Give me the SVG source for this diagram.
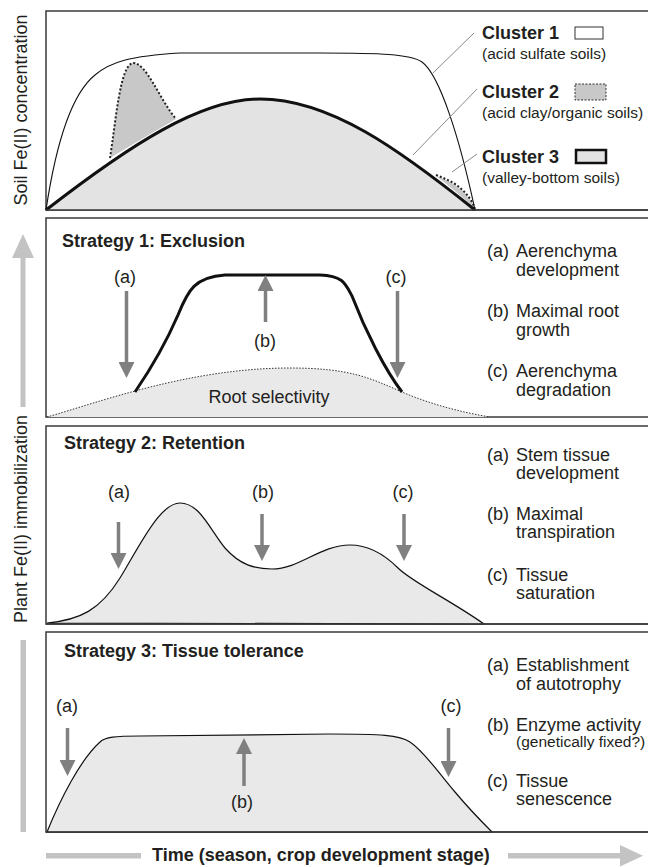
<svg xmlns="http://www.w3.org/2000/svg" width="648" height="867" viewBox="0 0 648 867">
<style>
.t{font-family:"Liberation Sans",Arial,Helvetica,sans-serif;font-size:18px;fill:#231f20}
.b{font-weight:bold}
.s{font-size:15.5px}
.frame{fill:#fff;stroke:#3a3a3a;stroke-width:1.5}
.arr{stroke:#808080;stroke-width:3.5;fill:none;marker-end:url(#ah)}
.big{fill:#c3c3c3}
.lead{stroke:#8a8a8a;stroke-width:1;fill:none}
.dot{fill:none;stroke:#222;stroke-width:2;stroke-dasharray:2 2}
.area{fill:#e9e9ea;stroke:#111;stroke-width:1.2}
</style>
<defs>
<marker id="ah" markerUnits="userSpaceOnUse" markerWidth="16" markerHeight="16" viewBox="0 0 16 16" refX="0" refY="8" orient="auto">
<path d="M0,0 L16,8 L0,16 Z" fill="#808080"/>
</marker>
</defs>
<rect width="648" height="867" fill="#fff"/>

<g id="axis-soil">
<text class="t" transform="translate(27,110) rotate(-90)" text-anchor="middle" font-size="19">Soil Fe(II) concentration</text>
</g>
<g id="axis-plant">
<text class="t" transform="translate(27,519) rotate(-90)" text-anchor="middle" font-size="19">Plant Fe(II) immobilization</text>
<polygon class="big" points="20.5,407 20.5,258 12,258 23,234 34,258 25.5,258 25.5,407"/>
<rect class="big" x="20.5" y="640" width="5.5" height="192"/>
</g>
<g id="axis-time">
<rect class="big" x="46" y="853" width="95" height="5.5"/>
<text class="t b" x="152" y="861">Time (season, crop development stage)</text>
<polygon class="big" points="508,853 620,853 620,845 643,855.7 620,866.5 620,858.5 508,858.5"/>
</g>

<g id="panel-soil">
<rect class="frame" x="46" y="11" width="610" height="199"/>
<path d="M46,210 C130,145 200,99 260,99 C330,99 400,150 475,210 Z" fill="#e3e3e4"/>
<path d="M110,158 C116,120 120,65 133,63 C146,62 160,100 176,119 Q145,137 110,158 Z" fill="#c8c8c9"/>
<path d="M436,176 C452,182 466,188 475,209 Q455,190 436,176 Z" fill="#c8c8c9"/>
<path class="dot" d="M110,158 C116,120 120,65 133,63 C146,62 160,100 176,119"/>
<path class="dot" d="M436,175 C452,181 466,188 475,208"/>
<path d="M46,210 C130,145 200,99 260,99 C330,99 400,150 475,210" fill="none" stroke="#111" stroke-width="3"/>
<path d="M46,210 C55,150 70,95 95,75 C110,62 130,56 180,53 L320,53 C380,53 410,54 422,62 C440,75 460,140 475,210" fill="none" stroke="#111" stroke-width="1.1"/>
<line x1="46" y1="210" x2="648" y2="210" stroke="#3a3a3a" stroke-width="1.5"/>
</g>
<g id="legend-c1">
<text class="t b" x="482" y="39">Cluster 1</text>
<rect x="575" y="27" width="28" height="12" fill="#fff" stroke="#333" stroke-width="1"/>
<text class="t s" x="482" y="59">(acid sulfate soils)</text>
</g>
<g id="legend-c2">
<text class="t b" x="482" y="98">Cluster 2</text>
<rect x="575" y="84" width="31" height="16" fill="#c8c8c9" stroke="#333" stroke-width="1" stroke-dasharray="2 1.5"/>
<text class="t s" x="482" y="118">(acid clay/organic soils)</text>
</g>
<g id="legend-c3">
<text class="t b" x="482" y="163">Cluster 3</text>
<rect x="576" y="150" width="30" height="13" fill="#e3e3e4" stroke="#111" stroke-width="2.5"/>
<text class="t s" x="482" y="183">(valley-bottom soils)</text>
</g>

<g id="panel-s1">
<rect class="frame" x="46" y="218" width="610" height="199"/>
<path d="M47,417 C100,402 190,368 290,368 C350,368 370,378 402,392 C430,404 460,412 490,417 Z" fill="#e9e9ea"/>
<path d="M47,417 C100,402 190,368 290,368 C350,368 370,378 402,392 C430,404 460,412 490,417" fill="none" stroke="#333" stroke-width="1" stroke-dasharray="1.5 1.5"/>
<path d="M135,392 C150,370 165,345 178,315 C188,290 195,277 225,275 L320,275 C343,276 345,283 352,296 C365,330 385,370 402,392" fill="none" stroke="#111" stroke-width="3"/>
<text class="t b" x="62" y="247">Strategy 1: Exclusion</text>
<text class="t" x="269" y="403" text-anchor="middle">Root selectivity</text>
<text class="t" x="125" y="283" text-anchor="middle">(a)</text>
<text class="t" x="265" y="347" text-anchor="middle">(b)</text>
<text class="t" x="396" y="283" text-anchor="middle">(c)</text>
<text class="t" x="487" y="257">(a)</text><text class="t" x="516" y="257">Aerenchyma</text>
<text class="t" x="516" y="276">development</text>
<text class="t" x="487" y="317">(b)</text><text class="t" x="516" y="317">Maximal root</text>
<text class="t" x="516" y="336">growth</text>
<text class="t" x="487" y="377">(c)</text><text class="t" x="516" y="377">Aerenchyma</text>
<text class="t" x="516" y="396">degradation</text>
</g>

<g id="panel-s2">
<rect class="frame" x="46" y="426" width="610" height="198"/>
<path class="area" d="M47,623 C80,620 100,610 120,578 C140,545 160,503 180,503 C200,503 210,530 225,548 C240,565 255,569 272,569 C300,569 320,545 350,545 C370,545 385,555 398,568 C412,582 450,600 484,624 Z"/>
<line x1="46" y1="624" x2="648" y2="624" stroke="#3a3a3a" stroke-width="1.5"/>
<text class="t b" x="64" y="449">Strategy 2: Retention</text>
<text class="t" x="119" y="498" text-anchor="middle">(a)</text>
<text class="t" x="263" y="498" text-anchor="middle">(b)</text>
<text class="t" x="403" y="498" text-anchor="middle">(c)</text>
<text class="t" x="487" y="461">(a)</text><text class="t" x="516" y="461">Stem tissue</text>
<text class="t" x="516" y="479">development</text>
<text class="t" x="487" y="520">(b)</text><text class="t" x="516" y="520">Maximal</text>
<text class="t" x="516" y="538">transpiration</text>
<text class="t" x="487" y="581">(c)</text><text class="t" x="516" y="581">Tissue</text>
<text class="t" x="516" y="599">saturation</text>
</g>

<g id="panel-s3">
<rect class="frame" x="46" y="632" width="610" height="200"/>
<path class="area" d="M47,832 C60,800 80,760 100,742 C105,737 115,736 140,736 L330,734 C380,734 400,735 410,742 C425,752 440,775 455,792 C470,810 480,820 492,832 Z"/>
<line x1="46" y1="832" x2="648" y2="832" stroke="#3a3a3a" stroke-width="1.5"/>
<text class="t b" x="64" y="657">Strategy 3: Tissue tolerance</text>
<text class="t" x="67" y="712" text-anchor="middle">(a)</text>
<text class="t" x="242" y="808" text-anchor="middle">(b)</text>
<text class="t" x="451" y="712" text-anchor="middle">(c)</text>
<text class="t" x="487" y="671">(a)</text><text class="t" x="516" y="671">Establishment</text>
<text class="t" x="516" y="690">of autotrophy</text>
<text class="t" x="487" y="731">(b)</text><text class="t" x="516" y="731">Enzyme activity</text>
<text class="t s" x="516" y="747">(genetically fixed?)</text>
<text class="t" x="487" y="787">(c)</text><text class="t" x="516" y="787">Tissue</text>
<text class="t" x="516" y="805">senescence</text>
</g>

<g id="connectors">
<line class="lead" x1="433" y1="73" x2="474" y2="33"/>
<line class="lead" x1="413" y1="155" x2="477" y2="89"/>
<line class="lead" x1="452" y1="172" x2="477" y2="154"/>
<line class="arr" x1="126.5" y1="291" x2="126.5" y2="362"/>
<line class="arr" x1="265.5" y1="322" x2="265.5" y2="291"/>
<line class="arr" x1="397.5" y1="291" x2="397.5" y2="362"/>
<line class="arr" x1="118.5" y1="522" x2="118.5" y2="553"/>
<line class="arr" x1="262" y1="514" x2="262" y2="545"/>
<line class="arr" x1="404" y1="514" x2="404" y2="545"/>
<line class="arr" x1="67.5" y1="728" x2="67.5" y2="760"/>
<line class="arr" x1="244" y1="786" x2="244" y2="754"/>
<line class="arr" x1="448.5" y1="728" x2="448.5" y2="761"/>
</g>
</svg>
